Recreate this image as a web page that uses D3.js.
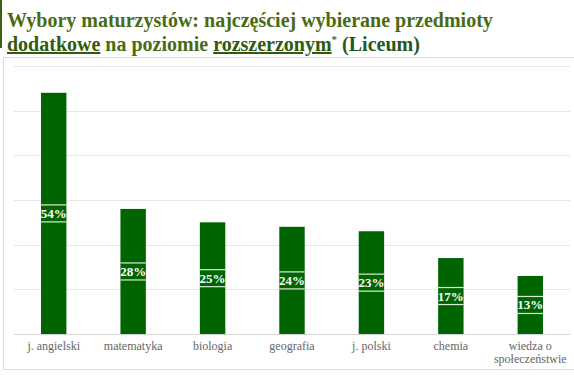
<html><head><meta charset="utf-8">
<script src="https://cdn.jsdelivr.net/npm/d3@7"></script>
<style>svg text, svg tspan { font-family: "Times New Roman", "Liberation Serif", Tinos !important; }</style>
</head><body style="margin:0">
<svg id="c" width="574" height="379" font-family="Times New Roman"></svg>
<script>
const categories = ["j. angielski","matematyka","biologia","geografia","j. polski","chemia","wiedza o|społeczeństwie"];
const values = [54,28,25,24,23,17,13];
const yTicks = [0,10,20,30,40,50,60];

const svg = d3.select("#c");
const FF = "'Times New Roman'";

// title accent bar
svg.append("rect").attr("x",0).attr("y",0).attr("width",2).attr("height",48).attr("fill","#3f5f12");

const t1 = svg.append("text").attr("x",7).attr("y",27).style("font-family",FF).style("font-weight","bold").style("font-size","20px").attr("fill","#4a6b16");
t1.text("Wybory maturzystów: najczęściej wybierane przedmioty");
const t2 = svg.append("text").attr("x",7).attr("y",51).style("font-family",FF).style("font-weight","bold").style("font-size","20px").attr("fill","#4a6b16");
t2.append("tspan").attr("fill","#2f5a10").style("text-decoration","underline").text("dodatkowe");
t2.append("tspan").text(" na poziomie ");
t2.append("tspan").attr("fill","#2f5a10").style("text-decoration","underline").text("rozszerzonym");
t2.append("tspan").style("font-size","11px").attr("dy",-8).attr("fill","#4a6b16").text("*");
t2.append("tspan").attr("dy",8).attr("fill","#1f5a1f").text(" (Liceum)");

// frame
svg.append("rect").attr("x",3.5).attr("y",57.5).attr("width",580).attr("height",312).attr("fill","none").attr("stroke","#dcdcdc");

const x = d3.scaleBand().domain(categories).range([14,570]).paddingInner(0.68).paddingOuter(0.34);
const y = d3.scaleLinear().domain([0,60]).range([334,66]);

svg.append("g").selectAll("line").data(yTicks.slice(1)).join("line")
  .attr("x1",14).attr("x2",570).attr("y1",d=>Math.round(y(d))+0.5).attr("y2",d=>Math.round(y(d))+0.5)
  .attr("stroke","#e6e6e6");
svg.append("line").attr("x1",14).attr("x2",570).attr("y1",334.5).attr("y2",334.5).attr("stroke","#d4d4d4");

const g = svg.append("g").selectAll("g").data(categories).join("g");
g.append("rect").attr("x",d=>x(d)).attr("width",x.bandwidth())
  .attr("y",(d,i)=>y(values[i])).attr("height",(d,i)=>y(0)-y(values[i])).attr("fill","#006400");
const mid = (d,i)=> (y(values[i])+y(0))/2;
g.append("line").attr("x1",d=>x(d)).attr("x2",d=>x(d)+x.bandwidth())
  .attr("y1",(d,i)=>mid(d,i)-8.5).attr("y2",(d,i)=>mid(d,i)-8.5).attr("stroke","#d8ecd8").attr("stroke-width",1.2);
g.append("line").attr("x1",d=>x(d)).attr("x2",d=>x(d)+x.bandwidth())
  .attr("y1",(d,i)=>mid(d,i)+8.5).attr("y2",(d,i)=>mid(d,i)+8.5).attr("stroke","#d8ecd8").attr("stroke-width",1.2);
g.append("text").attr("x",d=>x(d)+x.bandwidth()/2).attr("y",(d,i)=>mid(d,i)+4.5)
  .attr("text-anchor","middle").style("font-family",FF).style("font-weight","bold").style("font-size","13px")
  .attr("fill","#fff").text((d,i)=>values[i]+"%");

const lab = svg.append("g").selectAll("text").data(categories).join("text")
  .attr("x",d=>x(d)+x.bandwidth()/2).attr("y",350).attr("text-anchor","middle")
  .style("font-family",FF).style("font-size","12px").attr("fill","#666");
lab.each(function(d){
  const parts = d.split("|");
  const s = d3.select(this);
  parts.forEach((p,k)=>s.append("tspan").attr("x",x(d)+x.bandwidth()/2).attr("dy",k?12.5:0).text(p));
});
</script>
</body></html>
